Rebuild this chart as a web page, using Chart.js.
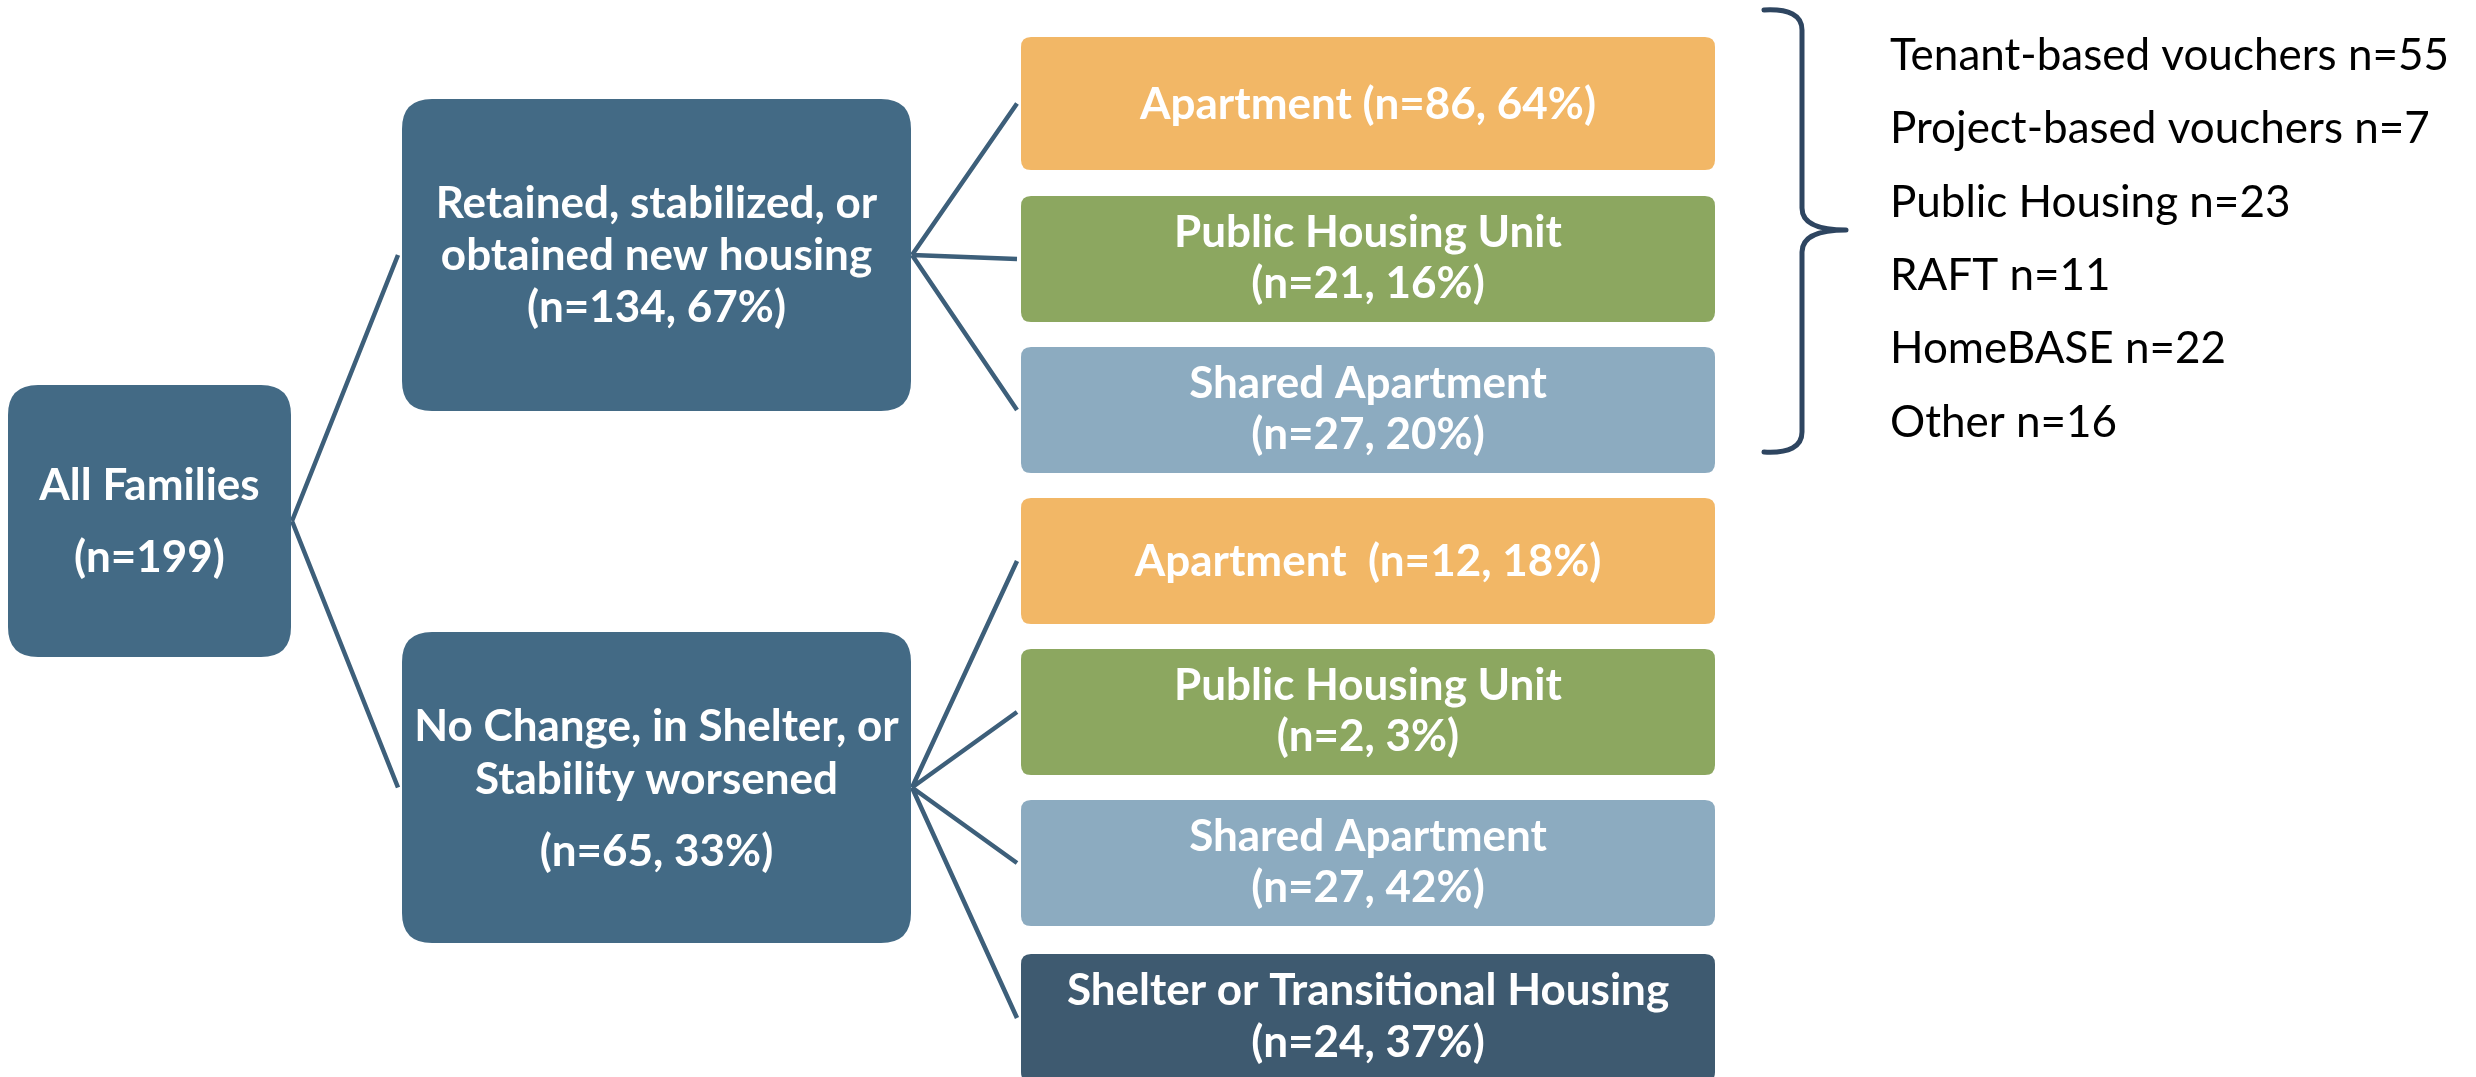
<!DOCTYPE html>
<html>
<head>
<meta charset="utf-8">
<script src="https://cdn.jsdelivr.net/npm/chart.js@4"></script>
<style>
  html, body { margin: 0; padding: 0; background: #ffffff; }
  #wrap { width: 2476px; height: 1077px; position: relative; }
</style>
</head>
<body>
<div id="wrap"><canvas id="treeChart"></canvas></div>
<script>
// tree nodes: label lines, family counts, share of parent group
const nodeLabels = [
    ['All Families'],
    ['Retained, stabilized, or', 'obtained new housing'],
    ['No Change, in Shelter, or', 'Stability worsened'],
    ['Apartment'],
    ['Public Housing Unit'],
    ['Shared Apartment'],
    ['Apartment '],
    ['Public Housing Unit'],
    ['Shared Apartment'],
    ['Shelter or Transitional Housing']
];
const nodeCounts = [199, 134, 65, 86, 21, 27, 12, 2, 27, 24];
const nodePercents = [null, 67, 33, 64, 16, 20, 18, 3, 42, 37];
const nodeParents = [-1, 0, 0, 1, 1, 1, 2, 2, 2, 2];

// housing sources listed beside the brace
const sourceLabels = ['Tenant-based vouchers', 'Project-based vouchers', 'Public Housing', 'RAFT', 'HomeBASE', 'Other'];
const sourceCounts = [55, 7, 23, 11, 22, 16];

// layout (axis units == pixels), kept apart from the data
const boxes = [
    { x0: 8,    x1: 291,  y0: 385, y1: 657,  r: 30, color: '#436a85', offs: [-36, 36], inline: false },
    { x0: 402,  x1: 911,  y0: 99,  y1: 411,  r: 30, color: '#436a85', offs: [-52, 0, 52], inline: false },
    { x0: 402,  x1: 911,  y0: 632, y1: 943,  r: 30, color: '#436a85', offs: [-62, -9, 63], inline: false },
    { x0: 1021, x1: 1715, y0: 37,  y1: 170,  r: 10, color: '#f2b766', offs: [0], inline: true },
    { x0: 1021, x1: 1715, y0: 196, y1: 322,  r: 10, color: '#8ca760', offs: [-27, 24], inline: false },
    { x0: 1021, x1: 1715, y0: 347, y1: 473,  r: 10, color: '#8cabc0', offs: [-27, 24], inline: false },
    { x0: 1021, x1: 1715, y0: 498, y1: 624,  r: 10, color: '#f2b766', offs: [0], inline: true },
    { x0: 1021, x1: 1715, y0: 649, y1: 775,  r: 10, color: '#8ca760', offs: [-27, 24], inline: false },
    { x0: 1021, x1: 1715, y0: 800, y1: 926,  r: 10, color: '#8cabc0', offs: [-27, 24], inline: false },
    { x0: 1021, x1: 1715, y0: 954, y1: 1082, r: 10, color: '#3e5a70', offs: [-28, 24], inline: false }
];
const listX = 1890;
const listBaselines = [70, 143, 217, 290, 363, 437];

function countText(i) {
    if (nodePercents[i] === null) return '(n=' + nodeCounts[i] + ')';
    return '(n=' + nodeCounts[i] + ', ' + nodePercents[i] + '%)';
}

// connectors: parent right-middle to child left-middle, null breaks between them
const connectorPoints = [];
nodeParents.forEach(function(p, i) {
    if (p < 0) return;
    const pb = boxes[p], cb = boxes[i];
    connectorPoints.push({ x: pb.x1 + 1, y: (pb.y0 + pb.y1) / 2 });
    connectorPoints.push({ x: cb.x0 - 4, y: (cb.y0 + cb.y1) / 2 });
    connectorPoints.push({ x: null, y: null });
});

function roundRect(ctx, x0, y0, x1, y1, r) {
    ctx.beginPath();
    ctx.moveTo(x0 + r, y0);
    ctx.lineTo(x1 - r, y0);
    ctx.quadraticCurveTo(x1, y0, x1, y0 + r);
    ctx.lineTo(x1, y1 - r);
    ctx.quadraticCurveTo(x1, y1, x1 - r, y1);
    ctx.lineTo(x0 + r, y1);
    ctx.quadraticCurveTo(x0, y1, x0, y1 - r);
    ctx.lineTo(x0, y0 + r);
    ctx.quadraticCurveTo(x0, y0, x0 + r, y0);
    ctx.closePath();
}

const treePlugin = {
    id: 'treeBoxes',
    afterDatasetsDraw(chart) {
        const ctx = chart.ctx;
        const sx = chart.scales.x, sy = chart.scales.y;
        ctx.save();
        boxes.forEach(function(b, i) {
            const x0 = sx.getPixelForValue(b.x0), x1 = sx.getPixelForValue(b.x1);
            const y0 = sy.getPixelForValue(b.y0), y1 = sy.getPixelForValue(b.y1);
            roundRect(ctx, x0, y0, x1, y1, b.r);
            ctx.fillStyle = b.color;
            ctx.fill();

            let lines = nodeLabels[i].slice();
            if (b.inline) lines[lines.length - 1] += ' ' + countText(i);
            else lines.push(countText(i));
            const cx = (x0 + x1) / 2, cy = (y0 + y1) / 2;
            ctx.fillStyle = '#ffffff';
            ctx.font = 'bold 44px Lato';
            ctx.textAlign = 'center';
            ctx.textBaseline = 'alphabetic';
            lines.forEach(function(t, k) {
                ctx.fillText(t, cx, cy + b.offs[k] + 15);
            });
        });

        // brace
        const bx = function(v) { return sx.getPixelForValue(v); };
        const by = function(v) { return sy.getPixelForValue(v); };
        ctx.strokeStyle = '#2e4560';
        ctx.lineWidth = 5;
        ctx.lineCap = 'round';
        ctx.beginPath();
        ctx.moveTo(bx(1764), by(10));
        ctx.quadraticCurveTo(bx(1802), by(8), bx(1802), by(30));
        ctx.lineTo(bx(1802), by(208));
        ctx.quadraticCurveTo(bx(1802), by(230), bx(1846), by(230));
        ctx.moveTo(bx(1846), by(230));
        ctx.quadraticCurveTo(bx(1802), by(230), bx(1802), by(252));
        ctx.lineTo(bx(1802), by(432));
        ctx.quadraticCurveTo(bx(1802), by(454), bx(1764), by(452));
        ctx.stroke();

        // source list
        ctx.fillStyle = '#000000';
        ctx.font = '44px Lato';
        ctx.textAlign = 'left';
        sourceLabels.forEach(function(s, k) {
            ctx.fillText(s + ' n=' + sourceCounts[k], bx(listX), by(listBaselines[k]));
        });
        ctx.restore();
    }
};

document.fonts.load('bold 44px Lato').then(function() {
    return document.fonts.load('44px Lato');
}).catch(function() {}).then(function() {
    new Chart(document.getElementById('treeChart'), {
        type: 'scatter',
        data: {
            datasets: [{
                label: 'connectors',
                data: connectorPoints,
                showLine: true,
                spanGaps: false,
                borderColor: '#3d5f7a',
                borderWidth: 4.5,
                pointRadius: 0,
                tension: 0
            }]
        },
        options: {
            responsive: true,
            maintainAspectRatio: false,
            animation: false,
            layout: { padding: 0 },
            plugins: { legend: { display: false }, tooltip: { enabled: false } },
            scales: {
                x: { type: 'linear', min: 0, max: 2476, display: false },
                y: { type: 'linear', min: 0, max: 1077, reverse: true, display: false }
            }
        },
        plugins: [treePlugin]
    });
});
</script>
</body>
</html>
